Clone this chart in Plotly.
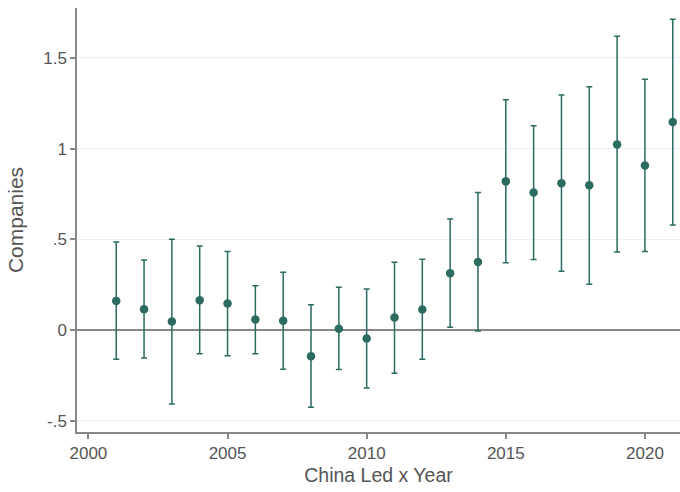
import plotly.graph_objects as go

years = list(range(2001, 2022))
coef = [0.160, 0.114, 0.046, 0.164, 0.145, 0.057, 0.050, -0.145, 0.006, -0.048,
        0.068, 0.112, 0.313, 0.375, 0.819, 0.758, 0.809, 0.797, 1.023, 0.907, 1.146]
upper = [0.484, 0.386, 0.500, 0.462, 0.432, 0.243, 0.318, 0.138, 0.235, 0.226,
         0.373, 0.390, 0.611, 0.758, 1.269, 1.126, 1.295, 1.341, 1.619, 1.382, 1.713]
lower = [-0.162, -0.155, -0.408, -0.132, -0.142, -0.131, -0.217, -0.427, -0.219, -0.320,
         -0.239, -0.162, 0.015, -0.006, 0.370, 0.388, 0.324, 0.252, 0.429, 0.432, 0.579]
y_tickvals = [-0.5, 0, 0.5, 1, 1.5]
y_ticktext = ["-.5", "0", ".5", "1", "1.5"]
x_tickvals = [2000, 2005, 2010, 2015, 2020]

color = "#2b6b60"
err_plus = [u - c for u, c in zip(upper, coef)]
err_minus = [c - l for c, l in zip(coef, lower)]

fig = go.Figure()
fig.add_trace(go.Scatter(
    x=years, y=coef, mode="markers",
    marker=dict(color=color, size=8.5),
    error_y=dict(type="data", symmetric=False, array=err_plus, arrayminus=err_minus,
                 color=color, thickness=1.5, width=3),
    showlegend=False, cliponaxis=False,
))

font = "Liberation Sans, Arial, Helvetica, sans-serif"
fig.update_layout(
    width=680, height=492,
    margin=dict(l=77, r=0, t=8, b=60),
    paper_bgcolor="white", plot_bgcolor="white",
    font=dict(family=font, size=17, color="#555555"),
    xaxis=dict(
        range=[1999.59, 2021.26], tickvals=x_tickvals, automargin=False,
        showgrid=False, zeroline=False,
        showline=True, linecolor="#888888", linewidth=1.5,
        ticks="outside", ticklen=5, tickcolor="#888888", tickwidth=1.5,
        title=dict(text="China Led x Year", font=dict(size=19.5, color="#555555"), standoff=6),
    ),
    yaxis=dict(
        range=[-0.563, 1.775], tickvals=y_tickvals, ticktext=y_ticktext, automargin=False,
        showgrid=True, gridcolor="#e8f1f2", gridwidth=1,
        zeroline=True, zerolinecolor="#888888", zerolinewidth=1.5,
        showline=True, linecolor="#888888", linewidth=1.5,
        ticks="outside", ticklen=5, tickcolor="#888888", tickwidth=1.5,
        title=dict(text="Companies", font=dict(size=21, color="#555555"), standoff=14),
    ),
)

fig.write_html("out.html", config={"displayModeBar": False},
               post_script="document.body.style.margin='0';document.body.style.overflow='hidden';")
